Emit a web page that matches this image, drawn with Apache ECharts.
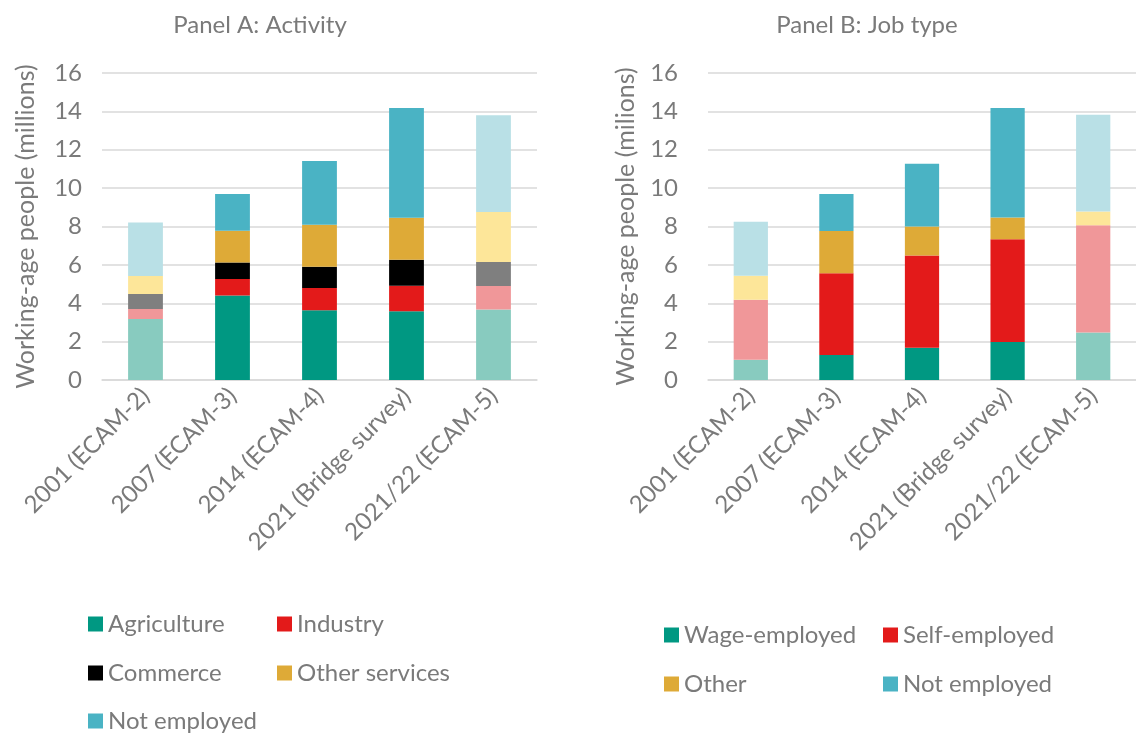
<!DOCTYPE html>
<html>
<head>
<meta charset="utf-8">
<script src="https://cdn.jsdelivr.net/npm/echarts@6/dist/echarts.min.js"></script>
<style>html,body{margin:0;padding:0;background:#fff}#c{width:1136px;height:733px}</style>
</head>
<body>
<div id="c"></div>
<script>
// ---- data ----
const categories = ['2001 (ECAM-2)', '2007 (ECAM-3)', '2014 (ECAM-4)', '2021 (Bridge survey)', '2021/22 (ECAM-5)'];
const yTicks = [0, 2, 4, 6, 8, 10, 12, 14, 16];

// Panel A: Activity
const agriculture   = [3.18, 4.41, 3.63, 3.58, 3.68];
const industry      = [0.52, 0.85, 1.16, 1.33, 1.22];
const commerce      = [0.78, 0.87, 1.11, 1.36, 1.25];
const otherServices = [0.94, 1.65, 2.19, 2.18, 2.60];
const notEmployedA  = [2.79, 1.92, 3.32, 5.73, 5.05];

// Panel B: Job type
const wageEmployed  = [1.06, 1.30, 1.68, 1.98, 2.48];
const selfEmployed  = [3.12, 4.27, 4.81, 5.35, 5.58];
const otherB        = [1.25, 2.19, 1.51, 1.14, 0.72];
const notEmployedB  = [2.82, 1.93, 3.27, 5.71, 5.04];

// ---- styles ----
const C = {
  teal: ['#009882', '#88CBBF'],
  red: ['#E31A1A', '#F09799'],
  black: ['#000000', '#7F7F7F'],
  orange: ['#DEAA37', '#FDE699'],
  blue: ['#4AB3C4', '#B9E0E6']
};
const lightIdx = [0, 4];
const TXT = '#7A7A7A';
const FONT = 'Lato';

function mk(name, vals, col, axisIdx, stack) {
  return {
    name: name, type: 'bar', stack: stack,
    xAxisIndex: axisIdx, yAxisIndex: axisIdx,
    barWidth: '40%',
    itemStyle: { color: col[0] },
    emphasis: { disabled: true },
    data: vals.map((v, i) => ({ value: v, itemStyle: { color: lightIdx.includes(i) ? col[1] : col[0] } }))
  };
}

const series = [
  mk('Agriculture', agriculture, C.teal, 0, 'a'),
  mk('Industry', industry, C.red, 0, 'a'),
  mk('Commerce', commerce, C.black, 0, 'a'),
  mk('Other services', otherServices, C.orange, 0, 'a'),
  mk('Not employed', notEmployedA, C.blue, 0, 'a'),
  mk('Wage-employed', wageEmployed, C.teal, 1, 'b'),
  mk('Self-employed', selfEmployed, C.red, 1, 'b'),
  mk('Other', otherB, C.orange, 1, 'b'),
  mk('Not employed ', notEmployedB, C.blue, 1, 'b')
];

function xAx(gi) {
  return {
    type: 'category', gridIndex: gi, data: categories,
    axisTick: { show: false },
    axisLine: { lineStyle: { color: '#D9D9D9', width: 1.5 } },
    axisLabel: { rotate: 45, color: TXT, fontSize: 24, fontFamily: FONT, margin: 12, interval: 0 }
  };
}
function yAx(gi, name, margin, gap) {
  return {
    type: 'value', gridIndex: gi, min: 0, max: 16, interval: 2,
    name: name, nameLocation: 'middle', nameGap: gap, nameRotate: 90,
    nameTextStyle: { color: TXT, fontSize: 25, fontFamily: FONT },
    axisLabel: { color: TXT, fontSize: 24, fontFamily: FONT, margin: margin,
      formatter: v => yTicks.includes(v) ? String(v) : '' },
    splitLine: { lineStyle: { color: '#D9D9D9', width: 1.5 } },
    axisLine: { show: false }, axisTick: { show: false }
  };
}

function leg(name, left, top) {
  return {
    data: [name], left: left, top: top, itemWidth: 15, itemHeight: 15,
    icon: 'rect', selectedMode: false, padding: 0,
    textStyle: { color: TXT, fontSize: 24, fontFamily: FONT }
  };
}

const option = {
  animation: false,
  backgroundColor: '#fff',
  title: [
    { text: 'Panel A: Activity', left: 255, top: 8, textAlign: 'center',
      textStyle: { color: TXT, fontSize: 24, fontWeight: 'normal', fontFamily: FONT } },
    { text: 'Panel B: Job type', left: 862, top: 8, textAlign: 'center',
      textStyle: { color: TXT, fontSize: 24, fontWeight: 'normal', fontFamily: FONT } }
  ],
  grid: [
    { left: 102, top: 73, width: 435, height: 307 },
    { left: 708, top: 73, width: 434, height: 307 }
  ],
  xAxis: [xAx(0), xAx(1)],
  yAxis: [yAx(0, 'Working-age people (millions)', 20, 64), yAx(1, 'Working-age people (milions)', 30, 70)],
  legend: [
    leg('Agriculture', 88, 612), leg('Industry', 277, 612),
    leg('Commerce', 88, 661), leg('Other services', 277, 661),
    leg('Not employed', 88, 709),
    leg('Wage-employed', 664, 623), leg('Self-employed', 883, 623),
    leg('Other', 664, 672), leg('Not employed ', 883, 672)
  ],
  series: series
};

const chart = echarts.init(document.getElementById('c'), null, { renderer: 'canvas' });
chart.setOption(option);
</script>
</body>
</html>
